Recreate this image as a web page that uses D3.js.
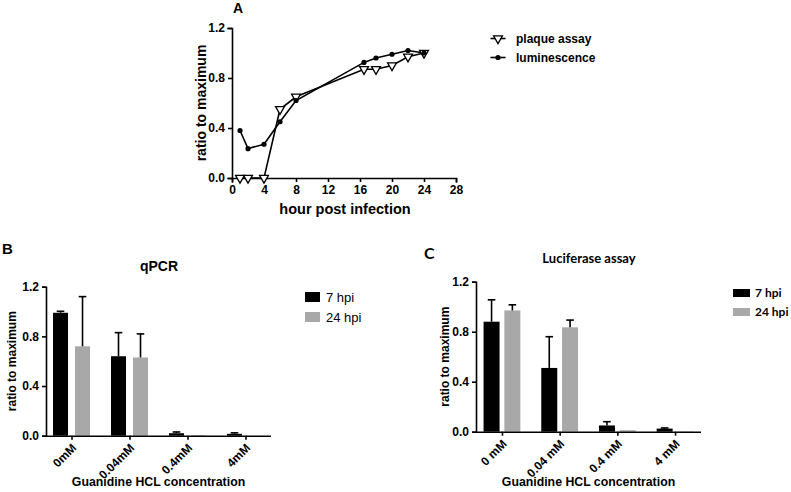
<!DOCTYPE html>
<html><head><meta charset="utf-8">
<script src="https://cdn.jsdelivr.net/npm/d3@7"></script>
<style>
body{margin:0;background:#fff;}
svg{display:block;font-family:"Liberation Sans",Arial,sans-serif;}
.ax path,.ax line{stroke:#000;stroke-width:1.6px;}
.ax text{font-weight:bold;font-size:12px;fill:#000;}
</style></head>
<body>
<svg id="c" width="791" height="492"></svg>
<script>
// Panel A data
const hoursPlaque = [1, 2, 4, 6, 8, 16.5, 18, 20, 22, 24];
const plaque = [0, 0, 0, 0.55, 0.65, 0.87, 0.87, 0.90, 0.97, 1.0];
const hoursLum = [1, 2, 4, 6, 8, 16.5, 18, 20, 22, 24];
const lum = [0.38, 0.235, 0.27, 0.45, 0.62, 0.925, 0.96, 0.99, 1.02, 1.0];
const xTicksA = [0, 4, 8, 12, 16, 20, 24, 28];
const yTicks = [0, 0.4, 0.8, 1.2];
const seriesA = ["plaque assay", "luminescence"];

// Panel B (qPCR)
const catsB = ["0mM", "0.04mM", "0.4mM", "4mM"];
const b7 = [0.99, 0.64, 0.02, 0.015];
const b7err = [0.012, 0.19, 0.01, 0.008];
const b24 = [0.72, 0.63, 0.005, 0];
const b24err = [0.40, 0.19, 0.002, 0];

// Panel C (Luciferase)
const catsC = ["0 mM", "0.04 mM", "0.4 mM", "4 mM"];
const c7 = [0.88, 0.51, 0.05, 0.025];
const c7err = [0.175, 0.25, 0.03, 0.005];
const c24 = [0.97, 0.835, 0.012, 0.003];
const c24err = [0.045, 0.058, 0.003, 0];

const series = ["7 hpi", "24 hpi"];
const colors = ["#000000", "#a8a8a8"];

const svg = d3.select("#c");

// ---------- Panel A ----------
(function(){
  const x = d3.scaleLinear().domain([0, 28]).range([232, 456]);
  const y = d3.scaleLinear().domain([0, 1.2]).range([178, 28]);
  const g = svg.append("g");
  g.append("g").attr("class","ax").attr("transform","translate(0,178)")
    .call(d3.axisBottom(x).tickValues(xTicksA).tickFormat(d3.format("d")).tickSize(4).tickPadding(3));
  g.append("g").attr("class","ax").attr("transform","translate(232,0)")
    .call(d3.axisLeft(y).tickValues(yTicks).tickFormat(d3.format(".1f")).tickSize(4).tickPadding(3));
  g.selectAll(".ax path").attr("stroke-linecap","square");
  const line = d3.line().x(d=>x(d[0])).y(d=>y(d[1]));
  const pA = hoursPlaque.map((h,i)=>[h, plaque[i]]);
  const lA = hoursLum.map((h,i)=>[h, lum[i]]);
  g.append("path").datum(lA).attr("d", line).attr("fill","none").attr("stroke","#000").attr("stroke-width",1.6);
  g.append("path").datum(pA).attr("d", line).attr("fill","none").attr("stroke","#000").attr("stroke-width",1.6);
  const tri = d3.symbol().type(d3.symbolTriangle).size(34);
  g.selectAll(".tri").data(pA).enter().append("path")
    .attr("d", tri).attr("transform", d=>`translate(${x(d[0])},${y(d[1])}) rotate(180)`)
    .attr("fill","#fff").attr("stroke","#000").attr("stroke-width",1.3);
  g.selectAll(".dot").data(lA).enter().append("circle")
    .attr("cx", d=>x(d[0])).attr("cy", d=>y(d[1])).attr("r", 2.6).attr("fill","#000");
  g.append("text").attr("x",233).attr("y",13).attr("font-weight","bold").attr("font-size",14).text("A");
  g.append("text").attr("transform","translate(206,103) rotate(-90)").attr("text-anchor","middle")
    .attr("font-weight","bold").attr("font-size",14).text("ratio to maximum");
  g.append("text").attr("x",345).attr("y",214).attr("text-anchor","middle")
    .attr("font-weight","bold").attr("font-size",14.5).text("hour post infection");
  // legend
  const ly = [38.5, 57.5];
  seriesA.forEach((s,i)=>{
    g.append("line").attr("x1",490.5).attr("x2",505.5).attr("y1",ly[i]).attr("y2",ly[i]).attr("stroke","#000").attr("stroke-width",1.6);
    if(i===0){
      g.append("path").attr("d", tri).attr("transform",`translate(498,${ly[i]}) rotate(180)`)
        .attr("fill","#fff").attr("stroke","#000").attr("stroke-width",1.3);
    } else {
      g.append("circle").attr("cx",498).attr("cy",ly[i]).attr("r",2.6).attr("fill","#000");
    }
    g.append("text").attr("x",516).attr("y",ly[i]+4.3).attr("font-weight","bold").attr("font-size",12).text(s);
  });
})();

// ---------- Bar panels ----------
function barPanel(opt){
  const x = d3.scalePoint().domain(opt.cats).range([opt.x0, opt.x1]).padding(opt.pad);
  const y = d3.scaleLinear().domain([0, 1.2]).range([opt.y0, opt.y1]);
  const g = svg.append("g");
  const vals = [opt.v7, opt.v24], errs = [opt.e7, opt.e24];
  vals.forEach((arr, s)=>{
    const off = (s===0 ? -1 : 1) * opt.off;
    g.selectAll(null).data(arr).enter().append("rect")
      .attr("x", (d,i)=>x(opt.cats[i]) + off - opt.bw/2)
      .attr("y", d=>y(d)).attr("width", opt.bw).attr("height", d=>opt.y0 - y(d))
      .attr("fill", colors[s]);
    arr.forEach((d,i)=>{
      if(errs[s][i] <= 0.004) return;
      const cx = x(opt.cats[i]) + off;
      g.append("line").attr("x1",cx).attr("x2",cx).attr("y1",y(d)).attr("y2",y(d+errs[s][i]))
        .attr("stroke","#000").attr("stroke-width",1.6);
      g.append("line").attr("x1",cx-3.8).attr("x2",cx+3.8).attr("y1",y(d+errs[s][i])).attr("y2",y(d+errs[s][i]))
        .attr("stroke","#000").attr("stroke-width",1.6);
    });
  });
  const xa = g.append("g").attr("class","ax").attr("transform",`translate(0,${opt.y0})`)
    .call(d3.axisBottom(x).tickSize(4).tickSizeOuter(0));
  xa.select(".domain").attr("d", `M${opt.x0},0.5H${opt.x1}`);
  xa.selectAll("text").attr("text-anchor","end").attr("font-size",11)
    .attr("dy",null).attr("y",0)
    .attr("transform", "translate(5,13) rotate(-45)");
  g.append("g").attr("class","ax").attr("transform",`translate(${opt.x0},0)`)
    .call(d3.axisLeft(y).tickValues(yTicks).tickFormat(d3.format(".1f")).tickSize(4).tickPadding(3));
  g.append("text").attr("transform",`translate(${opt.ylx},${(opt.y0+opt.y1)/2}) rotate(-90)`).attr("text-anchor","middle")
    .attr("font-weight","bold").attr("font-size",12).text("ratio to maximum");
  g.append("text").attr("x",(opt.x0+opt.x1)/2).attr("y",486).attr("text-anchor","middle")
    .attr("font-weight","bold").attr("font-size",12.3).text("Guanidine HCL concentration");
  return g;
}

const gB = barPanel({cats:catsB, v7:b7, e7:b7err, v24:b24, e24:b24err,
  x0:46, x1:271, pad:0.44, y0:435.7, y1:286.7, bw:15, off:11, ylx:16});
gB.append("text").attr("x",2).attr("y",254).attr("font-weight","bold").attr("font-size",15).text("B");
gB.append("text").attr("x",159).attr("y",271).attr("text-anchor","middle").attr("font-weight","bold").attr("font-size",14).text("qPCR");
series.forEach((s,i)=>{
  gB.append("rect").attr("x",305).attr("y",292+i*20).attr("width",15).attr("height",10).attr("fill",colors[i]);
  gB.append("text").attr("x",326).attr("y",301.5+i*20).attr("font-size",13).text(s);
});

const gC = barPanel({cats:catsC, v7:c7, e7:c7err, v24:c24, e24:c24err,
  x0:476, x1:701, pad:0.45, y0:431.7, y1:281.7, bw:16, off:10.4, ylx:449});
gC.append("text").attr("x",424).attr("y",259).attr("font-family","Lato").attr("font-weight","bold").attr("font-size",16).text("C");
gC.append("text").attr("x",589).attr("y",263).attr("text-anchor","middle").attr("font-family","Lato").attr("font-weight","bold").attr("font-size",13).text("Luciferase assay");
series.forEach((s,i)=>{
  gC.append("rect").attr("x",733).attr("y",289+i*19).attr("width",17).attr("height",8).attr("fill",colors[i]);
  gC.append("text").attr("x",755).attr("y",297+i*19).attr("font-family","Lato").attr("font-weight","bold").attr("font-size",12).text(s);
});
</script>
</body></html>
